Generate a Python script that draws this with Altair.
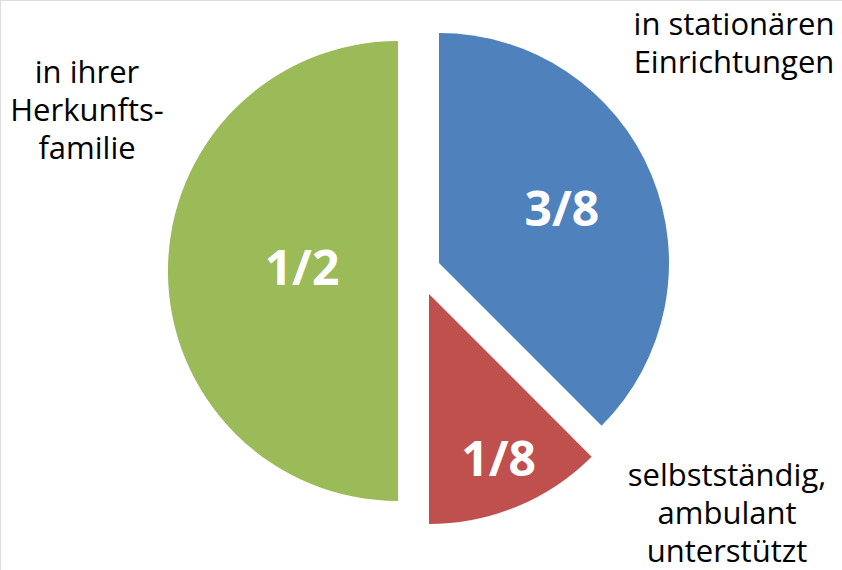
import altair as alt
import pandas as pd

# ---- data ----
categories = ["in stationären Einrichtungen", "selbstständig, ambulant unterstützt", "in ihrer Herkunftsfamilie"]
shares = [3 / 8, 1 / 8, 1 / 2]
fraction_labels = ["3/8", "1/8", "1/2"]
outer_labels = ["in stationären\nEinrichtungen", "selbstständig,\nambulant\nunterstützt", "in ihrer\nHerkunfts-\nfamilie"]

# ---- styles ----
colors = ["#4F81BD", "#C0504D", "#9BBB59"]
explode = [(18, -22), (8, 9), (-23, -14)]          # slice offsets (px)
inner_radius_pos = [133, 182, 96]                  # where the fraction sits
outer_pos = [(734, 26), (727, 477), (87, 74)]      # first-line anchor (px)
FONT = "Open Sans"

df = pd.DataFrame({
    "order": list(range(len(categories))),
    "category": categories,
    "share": shares,
    "frac": fraction_labels,
    "outer": outer_labels,
})

base = (
    alt.Chart(df)
    .transform_window(cum="sum(share)", sort=[alt.SortField("order")], frame=[None, 0])
    .transform_calculate(start="datum.cum - datum.share", mid="datum.cum - datum.share / 2")
)

theta_scale = alt.Scale(domain=[0, 1], range=[0, 6.283185307179586])

layers = []
for i in range(len(categories)):
    dx, dy = explode[i]
    sub = base.transform_filter(alt.datum.order == i)
    arc = sub.mark_arc(outerRadius=230, xOffset=dx, yOffset=dy, color=colors[i], stroke=None).encode(
        theta=alt.Theta("start:Q", scale=theta_scale),
        theta2="cum:Q",
    )
    txt = sub.mark_text(
        radius=inner_radius_pos[i], xOffset=dx, yOffset=dy, color="white",
        font=FONT, fontWeight="bold", fontSize=48, align="center", baseline="middle",
    ).encode(
        theta=alt.Theta("mid:Q", scale=theta_scale),
        text="frac:N",
    )
    ox, oy = outer_pos[i]
    out = sub.mark_text(
        color="black", font=FONT, fontSize=31, align="center", baseline="middle",
        lineBreak="\n", lineHeight=38,
    ).encode(
        x=alt.value(ox), y=alt.value(oy), text="outer:N",
    )
    layers += [arc, txt, out]

chart = (
    alt.layer(*layers)
    .properties(width=842, height=570, padding=0, autosize=alt.AutoSizeParams(type="none"))
    .configure_view(stroke=None)
    .configure(background="white")
)

chart.save("out.html", embed_options={"renderer": "svg", "actions": False})
